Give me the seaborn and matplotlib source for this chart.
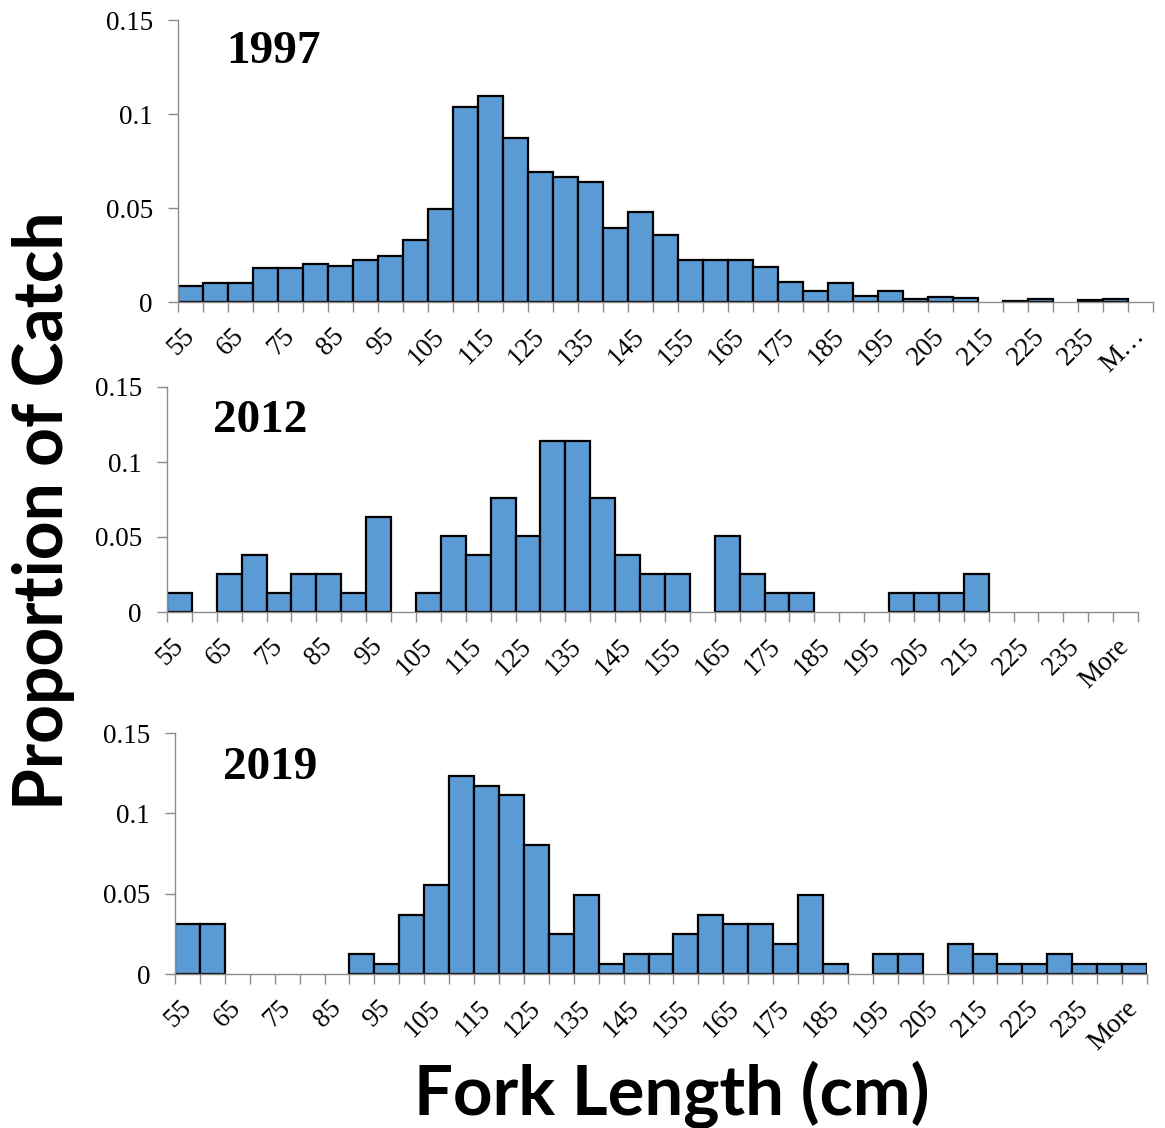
import numpy as np
import matplotlib
matplotlib.use("Agg")
import matplotlib.pyplot as plt
import seaborn as sns
from matplotlib.ticker import FixedLocator, FixedFormatter, NullFormatter

# ---------------- data ----------------
bins = [str(v) for v in range(55, 245, 5)] + ["More"]

p1997 = [0.0087, 0.0101, 0.0101, 0.0179, 0.0179, 0.0202, 0.0191, 0.0225, 0.0245, 0.0332,
         0.0497, 0.1038, 0.1094, 0.0875, 0.0694, 0.0664, 0.0637, 0.0391, 0.0480, 0.0358,
         0.0226, 0.0226, 0.0226, 0.0188, 0.0106, 0.0059, 0.0101, 0.0032, 0.0059, 0.0016,
         0.0027, 0.0021, 0.0, 0.0005, 0.0016, 0.0, 0.0010, 0.0016, 0.0]

p2012 = [0.0127, 0.0, 0.0253, 0.0380, 0.0127, 0.0253, 0.0253, 0.0127, 0.0633, 0.0,
         0.0127, 0.0506, 0.0380, 0.0759, 0.0506, 0.1139, 0.1139, 0.0759, 0.0380, 0.0253,
         0.0253, 0.0, 0.0506, 0.0253, 0.0127, 0.0127, 0.0, 0.0, 0.0, 0.0127,
         0.0127, 0.0127, 0.0253, 0.0, 0.0, 0.0, 0.0, 0.0, 0.0]

p2019 = [0.0309, 0.0309, 0.0, 0.0, 0.0, 0.0, 0.0, 0.0123, 0.0062, 0.0370,
         0.0556, 0.1235, 0.1173, 0.1111, 0.0802, 0.0247, 0.0494, 0.0062, 0.0123, 0.0123,
         0.0247, 0.0370, 0.0309, 0.0309, 0.0185, 0.0494, 0.0062, 0.0, 0.0123, 0.0123,
         0.0, 0.0185, 0.0123, 0.0062, 0.0062, 0.0123, 0.0062, 0.0062, 0.0062]

years = ["1997", "2012", "2019"]
series = [p1997, p2012, p2019]

shown_labels = [bins[i] for i in range(0, len(bins), 2)]
labels_1997 = shown_labels[:-1] + ["M\u2026"]
tick_label_sets = [labels_1997, shown_labels, shown_labels]

yticks = [0, 0.05, 0.1, 0.15]
ytick_labels = ["0", "0.05", "0.1", "0.15"]

# ---------------- style ----------------
sns.set_style("white")
plt.rcParams["font.family"] = ["Liberation Serif", "DejaVu Serif"]
plt.rcParams["text.color"] = "black"
plt.rcParams["xtick.labelcolor"] = "black"
plt.rcParams["ytick.labelcolor"] = "black"

W, H = 1165, 1128
fig = plt.figure(figsize=(W / 100, H / 100), dpi=100)

# axes boxes in pixels: left, right, top, bottom
boxes = [(178, 1153, 20, 302), (167, 1138, 387, 612), (175, 1147, 733, 974)]
title_pos = [(273, 52), (260, 421), (270, 768)]

BAR = "#5B9BD5"
AXC = "#8C8C8C"
TFS = 19.5

for (l, r, t, b), yr, vals, tl, tp in zip(boxes, years, series, tick_label_sets, title_pos):
    ax = fig.add_axes([l / W, 1 - b / H, (r - l) / W, (b - t) / H])
    sns.barplot(x=bins, y=vals, order=bins, ax=ax, color=BAR, saturation=1,
                edgecolor="black", linewidth=1.6, width=1.0)
    for p in ax.patches:
        if p.get_height() == 0:
            p.set_linewidth(0)
    ax.set_xlim(-0.5, len(bins) - 0.5)
    ax.set_ylim(0, 0.15)
    ax.set_xlabel("")
    ax.set_ylabel("")
    ax.set_yticks(yticks)
    ax.set_yticklabels(ytick_labels)
    ax.xaxis.set_major_locator(FixedLocator(np.arange(-0.5, len(bins), 1.0)))
    ax.xaxis.set_major_formatter(NullFormatter())
    ax.xaxis.set_minor_locator(FixedLocator(np.arange(0, len(bins), 2)))
    ax.xaxis.set_minor_formatter(FixedFormatter(tl))
    ax.tick_params(axis="x", which="major", length=7, width=1, color=AXC, direction="out",
                   bottom=True)
    ax.tick_params(axis="x", which="minor", length=0, pad=22, labelsize=TFS, bottom=True,
                   labelcolor="black")
    ax.tick_params(axis="y", which="major", length=7, width=1, color=AXC, direction="out",
                   pad=11, labelsize=TFS, left=True, labelcolor="black")
    for lab in ax.get_xticklabels(minor=True):
        lab.set_rotation(45)
        lab.set_ha("right")
        lab.set_va("center")
        lab.set_rotation_mode("anchor")
        lab.set_fontfamily("Liberation Serif")
    for lab in ax.get_yticklabels():
        lab.set_fontfamily("Liberation Serif")
    for s in ["top", "right"]:
        ax.spines[s].set_visible(False)
    for s in ["left", "bottom"]:
        ax.spines[s].set_color(AXC)
        ax.spines[s].set_linewidth(1)
    fig.text(tp[0] / W, 1 - tp[1] / H, yr, ha="center", va="center", color="black",
             fontfamily="Liberation Serif", fontweight="bold", fontsize=34)

ylab = fig.text(44 / W, 1 - 511 / H, "Proportion of Catch", rotation=90, color="black",
                ha="center", va="center", fontfamily="Lato", fontweight="bold", fontsize=44)
xlab = fig.text(672 / W, 1 - 1115 / H, "Fork Length (cm)", ha="center", va="baseline",
                color="black", fontfamily="Lato", fontweight="bold", fontsize=44)

fig.canvas.draw()
rend = fig.canvas.get_renderer()
bb = ylab.get_window_extent(rend)
ylab.set_fontsize(ylab.get_fontsize() * 598 / bb.height)
bb = xlab.get_window_extent(rend)
xlab.set_fontsize(xlab.get_fontsize() * 515 / bb.width)

fig.savefig("out.png", dpi=100)
